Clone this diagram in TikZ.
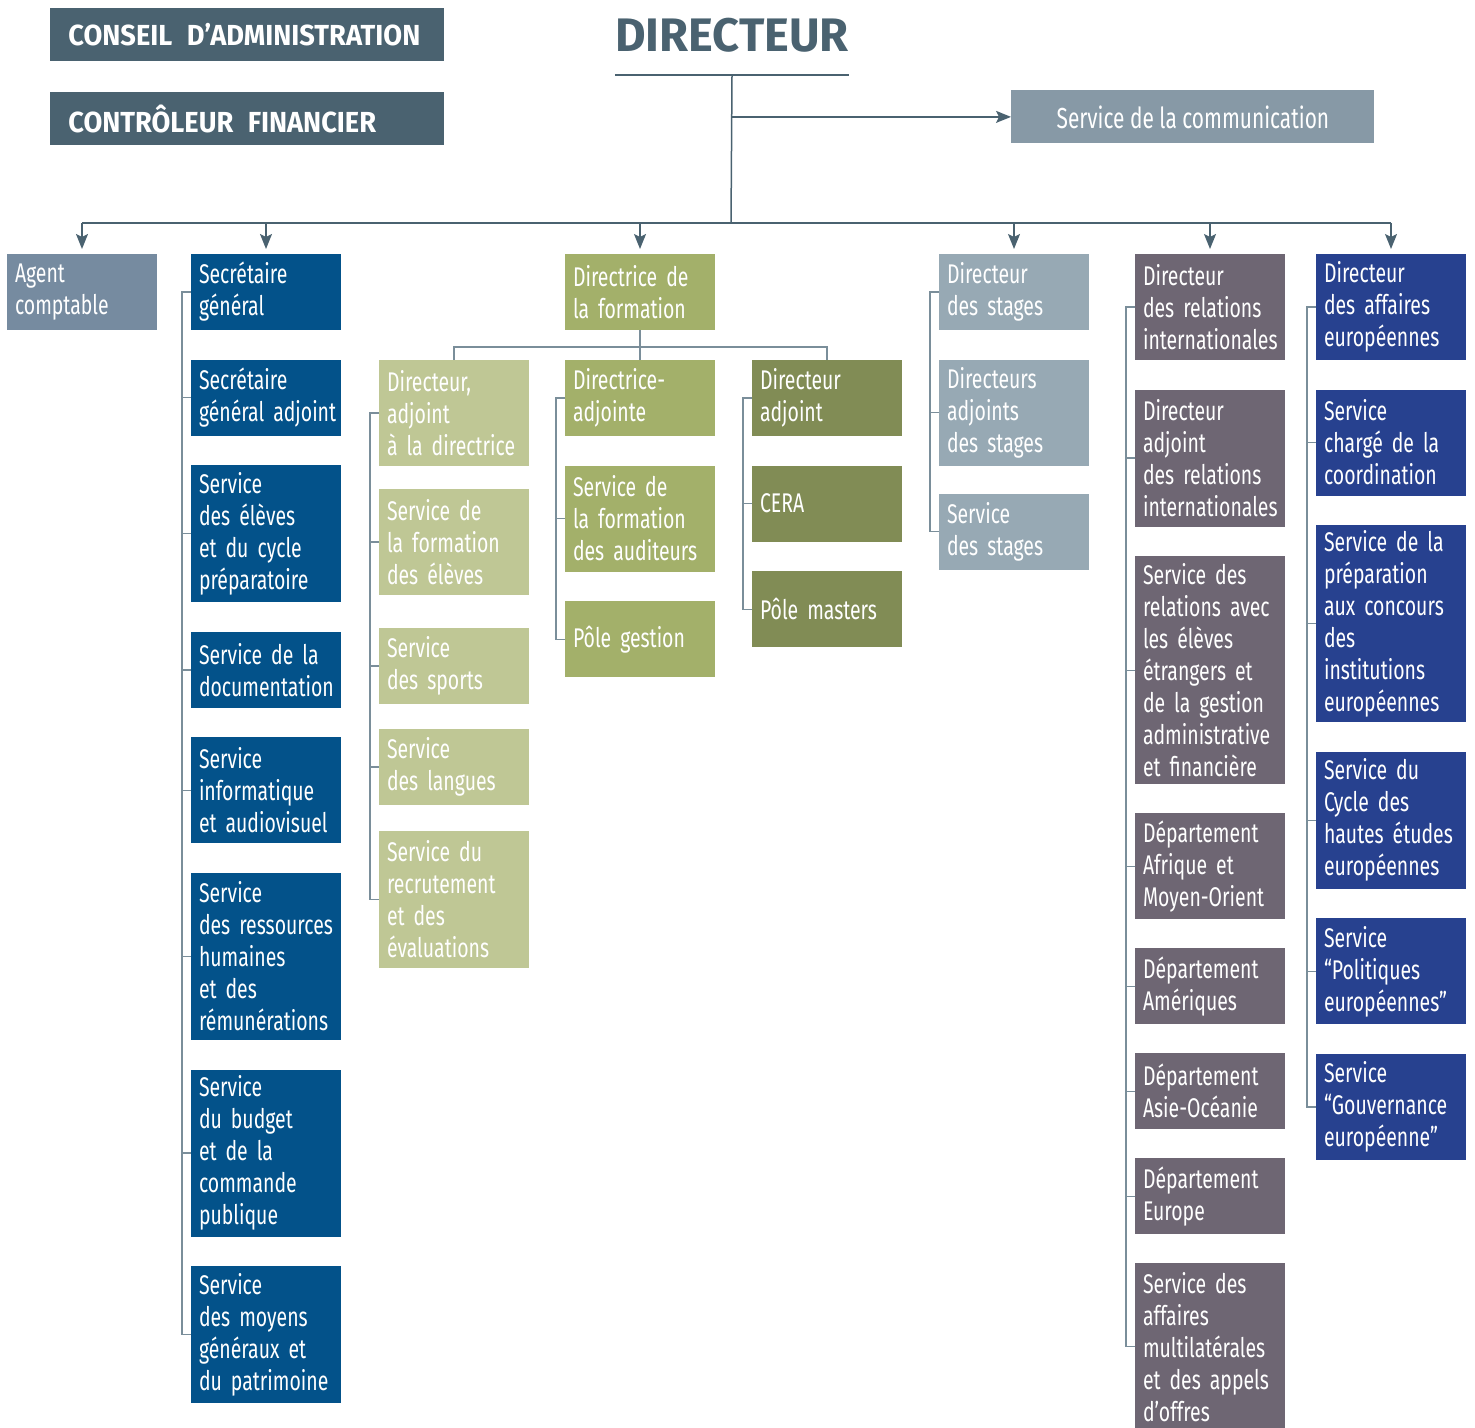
\documentclass[tikz,border=0pt]{standalone}
\usepackage{fontspec}
\setmainfont{Fira Sans}[FakeStretch=0.72]
\newfontfamily\headfont{Fira Sans}[FakeStretch=0.94]
\newfontfamily\titlefont{Fira Sans}
\usepackage{xcolor}
\usepackage{tikz}
\usetikzlibrary{positioning, arrows.meta}

\newcommand{\nohyph}{\hyphenpenalty=10000 \exhyphenpenalty=10000
    \spaceskip=0.21em plus 0.1em minus 0.05em \relax}

\definecolor{slate}{HTML}{4A6270}
\definecolor{linegrey}{HTML}{7A8E9A}
\definecolor{comgrey}{HTML}{8799A6}
\definecolor{agentgrey}{HTML}{768BA0}
\definecolor{sgblue}{HTML}{03528A}
\definecolor{olive}{HTML}{A3B06A}
\definecolor{lightolive}{HTML}{BFC795}
\definecolor{darkolive}{HTML}{818C55}
\definecolor{stagegrey}{HTML}{97A9B4}
\definecolor{mauve}{HTML}{6E6673}
\definecolor{euroblue}{HTML}{27418F}

\begin{document}
\begin{tikzpicture} [x=0.5pt, y=-0.5pt, node distance=14.8pt,
    box/.style={rectangle, anchor=north west, text width=67pt, inner xsep=4pt,
        inner ysep=2pt, outer sep=0pt, minimum height=38pt, align=left, text=white,
        font=\fontsize{13.5}{16}\selectfont\nohyph},
    l3/.style={minimum height=53pt}, l4/.style={minimum height=68.5pt},
    l5/.style={minimum height=83.5pt}, l6/.style={minimum height=98.5pt},
    l7/.style={minimum height=114pt},
    head/.style={rectangle, anchor=north west, fill=slate, text=white,
        text width=179pt, inner xsep=9pt, minimum height=26.5pt, align=left,
        font=\headfont\bfseries\fontsize{14.5}{16}\selectfont},
    main/.style={draw=slate, line width=0.75pt},
    col/.style={draw=linegrey, line width=0.7pt},
    tip/.style={-{Stealth[length=7.5pt, width=6pt, inset=1.5pt]}, shorten >=2.5pt}]

    \useasboundingbox (0,0) rectangle (1475,1427);

    % top of the chart
    \node (cons) [head] at (50,8) {CONSEIL\hspace{0.5em}D’ADMINISTRATION};
    \node (ctrl) [head] at (50,92) {CONTRÔLEUR\hspace{0.5em}FINANCIER};
    \node (dir) [anchor=south, inner xsep=0pt, inner ysep=11pt, text=slate,
        font=\titlefont\bfseries\fontsize{23.5}{25}\selectfont] at (732,75) {DIRECTEUR};
    \node (com) [rectangle, anchor=north west, fill=comgrey, text=white,
        minimum width=181.5pt, minimum height=26.5pt,
        font=\fontsize{14.5}{16}\selectfont] at (1011,90) {Service de la communication};
    \coordinate (hub) at (731,223);

    % first row
    \node (agent) [box, fill=agentgrey] at (7,254) {Agent\\comptable};
    \node (sg1) [box, fill=sgblue] at (191,254) {Secrétaire\\général};
    \node (fdir) [box, fill=olive] at (565,254) {Directrice de\\la formation};
    \node (stg1) [box, fill=stagegrey] at (939,254) {Directeur\\des stages};
    \node (dri1) [box, l3, fill=mauve] at (1135,254) {Directeur\\des relations\\internationales};
    \node (dae1) [box, l3, fill=euroblue] at (1316,254) {Directeur\\des affaires\\européennes};

    % secretariat general
    \node (sg2) [box, fill=sgblue, below=of sg1] {Secrétaire\\général~adjoint};
    \node (sg3) [box, l4, fill=sgblue, below=of sg2] {Service\\des élèves\\et du cycle\\préparatoire};
    \node (sg4) [box, fill=sgblue, below=of sg3] {Service de la\\documentation};
    \node (sg5) [box, l3, fill=sgblue, below=of sg4] {Service\\informatique\\et audiovisuel};
    \node (sg6) [box, l5, fill=sgblue, below=of sg5] {Service\\des ressources\\humaines\\et des\\rémunérations};
    \node (sg7) [box, l5, fill=sgblue, below=of sg6] {Service\\du budget\\et de la\\commande\\publique};
    \node (sg8) [box, l4, fill=sgblue, below=of sg7] {Service\\des moyens\\généraux et\\du patrimoine};

    % formation
    \node (fdl1) [box, l3, fill=lightolive] at (379,360) {Directeur,\\adjoint\\à la directrice};
    \node (fdl2) [box, l3, fill=lightolive] at (379,489) {Service de\\la formation\\des élèves};
    \node (fdl3) [box, fill=lightolive] at (379,628) {Service\\des sports};
    \node (fdl4) [box, fill=lightolive] at (379,729) {Service\\des langues};
    \node (fdl5) [box, l4, fill=lightolive] at (379,831) {Service du\\recrutement\\et des\\évaluations};
    \node (fadj1) [box, fill=olive] at (565,360) {Directrice-\\adjointe};
    \node (fadj2) [box, l3, fill=olive, below=of fadj1] {Service de\\la formation\\des auditeurs};
    \node (fadj3) [box, fill=olive, below=of fadj2] {Pôle gestion};
    \node (fdo1) [box, fill=darkolive] at (752,360) {Directeur\\adjoint};
    \node (fdo2) [box, fill=darkolive, below=of fdo1] {CERA};
    \node (fdo3) [box, fill=darkolive, below=of fdo2] {Pôle masters};

    % stages
    \node (stg2) [box, l3, fill=stagegrey, below=of stg1] {Directeurs\\adjoints\\des stages};
    \node (stg3) [box, fill=stagegrey, below=14pt of stg2] {Service\\des stages};

    % relations internationales
    \node (dri2) [box, l4, fill=mauve, below=of dri1] {Directeur\\adjoint\\des relations\\internationales};
    \node (dri3) [box, l7, fill=mauve, below=of dri2] {Service des\\relations avec\\les élèves\\étrangers et\\de la gestion\\administrative\\et financière};
    \node (dri4) [box, l3, fill=mauve, below=14.5pt of dri3] {Département\\Afrique et\\Moyen-Orient};
    \node (dri5) [box, fill=mauve, below=14.5pt of dri4] {Département\\Amériques};
    \node (dri6) [box, fill=mauve, below=14.5pt of dri5] {Département\\Asie-Océanie};
    \node (dri7) [box, fill=mauve, below=14.5pt of dri6] {Département\\Europe};
    \node (dri8) [box, l5, fill=mauve, below=14.5pt of dri7] {Service des\\affaires\\multilatérales\\et des appels\\d’offres};

    % affaires europeennes
    \node (dae2) [box, l3, fill=euroblue, below=of dae1] {Service\\chargé de la\\coordination};
    \node (dae3) [box, l6, fill=euroblue, below=of dae2] {Service de la\\préparation\\aux concours\\des\\institutions\\européennes};
    \node (dae4) [box, l4, fill=euroblue, below=of dae3] {Service du\\Cycle des\\hautes études\\européennes};
    \node (dae5) [box, l3, fill=euroblue, below=of dae4] {Service\\“Politiques\\européennes”};
    \node (dae6) [box, l3, fill=euroblue, below=of dae5] {Service\\“Gouvernance\\européenne”};

    % main links
    \draw [main] (dir.south west) -- (dir.south east);
    \draw [main] (dir.south) -- (hub);
    \draw [main, tip, shorten >=0pt] (dir.south |- com.west) -- (com.west);
    \draw [main] (agent.north |- hub) -- (dae1.north |- hub);
    \foreach \n in {agent, sg1, fdir, stg1, dri1, dae1}
        \draw [main, tip] (\n.north |- hub) -- (\n.north);

    % columns
    \draw [col] (fdir.south) -- (fadj1.north);
    \draw [col] (fdl1.north) -- ++(0,-13) -| (fdo1.north);
    \draw [col] (sg1.west) -| ([xshift=-4.5pt]sg8.west) -- (sg8.west);
    \foreach \i in {2,...,7} \draw [col] (sg\i.west) -- ++(-9,0);
    \draw [col] (fdl1.west) -| ([xshift=-4.5pt]fdl5.west) -- (fdl5.west);
    \foreach \i in {2,3,4} \draw [col] (fdl\i.west) -- ++(-9,0);
    \draw [col] (fadj1.west) -| ([xshift=-4.5pt]fadj3.west) -- (fadj3.west);
    \draw [col] (fadj2.west) -- ++(-9,0);
    \draw [col] (fdo1.west) -| ([xshift=-4.5pt]fdo3.west) -- (fdo3.west);
    \draw [col] (fdo2.west) -- ++(-9,0);
    \draw [col] (stg1.west) -| ([xshift=-4.5pt]stg3.west) -- (stg3.west);
    \draw [col] (stg2.west) -- ++(-9,0);
    \draw [col] (dri1.west) -| ([xshift=-4.5pt]dri8.west) -- (dri8.west);
    \foreach \i in {2,...,7} \draw [col] (dri\i.west) -- ++(-9,0);
    \draw [col] (dae1.west) -| ([xshift=-4.5pt]dae6.west) -- (dae6.west);
    \foreach \i in {2,...,5} \draw [col] (dae\i.west) -- ++(-9,0);

\end{tikzpicture}
\end{document}
